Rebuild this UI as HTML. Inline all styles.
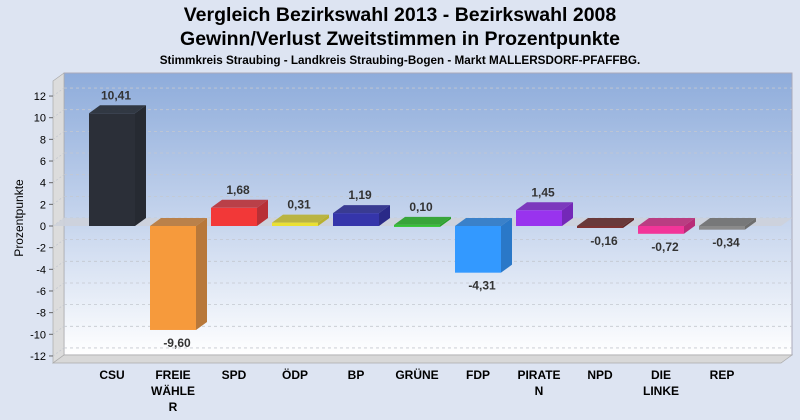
<!DOCTYPE html>
<html><head><meta charset="utf-8"><style>
body{margin:0;background:#dde4f2;}
svg{display:block;font-family:"Liberation Sans",Arial,sans-serif;}
</style></head><body>
<svg id="s" width="800" height="420" xmlns="http://www.w3.org/2000/svg">
<defs>
<linearGradient id="bg" x1="0" y1="0" x2="0" y2="1">
<stop offset="0" stop-color="#8eacdb"/><stop offset="0.55" stop-color="#c9d7ee"/><stop offset="1" stop-color="#ffffff"/>
</linearGradient>
</defs>
<rect width="800" height="420" fill="#dde4f2"/>
<text x="400" y="21" text-anchor="middle" font-size="19.5" font-weight="bold">Vergleich Bezirkswahl 2013 - Bezirkswahl 2008</text>
<text x="400" y="45" text-anchor="middle" font-size="19.5" font-weight="bold">Gewinn/Verlust Zweitstimmen in Prozentpunkte</text>
<text x="400" y="64" text-anchor="middle" font-size="11.7" font-weight="bold">Stimmkreis Straubing - Landkreis Straubing-Bogen - Markt MALLERSDORF-PFAFFBG.</text>
<rect x="64" y="73" width="728" height="282" fill="url(#bg)" stroke="#aab" stroke-width="1"/>
<polygon points="53,81 64,73 64,355 53,363" fill="#dcdcdc" stroke="#aaa" stroke-width="0.7"/>
<polygon points="53,363 64,355 792,355 781,363" fill="#d8d8d8" stroke="#aaa" stroke-width="0.7"/>
<text transform="translate(23,218) rotate(-90)" text-anchor="middle" font-size="12">Prozentpunkte</text>
<g id="g"></g>
</svg>
<script>
var g=document.getElementById('g'),h='';
function Y(v){return 226-v*10.83;}
for(var v=-12;v<=12;v+=2){var y=Y(v);
h+='<line x1="64" y1="'+(y-8)+'" x2="792" y2="'+(y-8)+'" stroke="#c4c8d0" stroke-dasharray="3,3" stroke-width="0.8"/>';
h+='<line x1="53" y1="'+y+'" x2="64" y2="'+(y-8)+'" stroke="#c4c8d0" stroke-dasharray="2,2" stroke-width="0.8"/>';
h+='<line x1="49" y1="'+y+'" x2="53" y2="'+y+'" stroke="#666"/>';
h+='<text x="46" y="'+(y+4)+'" text-anchor="end" font-size="11">'+v+'</text>';}
h+='<polygon points="53,226 64,218 792,218 781,226" fill="#cdd2da" opacity="0.9"/>';
var d=[["CSU",10.41,"#2b2f38","#262a32"],["FREIE|WÄHLE|R",-9.60,"#f69a3c","#b8783a"],["SPD",1.68,"#f23838","#b83036"],["ÖDP",0.31,"#eae033","#b8b030"],["BP",1.19,"#3535aa","#2a2a88"],["GRÜNE",0.10,"#33c233","#28a028"],["FDP",-4.31,"#3399ff","#2a78c8"],["PIRATE|N",1.45,"#9933ee","#7428b8"],["NPD",-0.16,"#7c3232","#5e2828"],["DIE|LINKE",-0.72,"#f23599","#b82c78"],["REP",-0.34,"#8a8a8a","#6e6e6e"]];
d.forEach(function(b,i){var x=89+i*61,w=46,v=b[1],t=Math.min(Y(v),226),bt=Math.max(Y(v),226);
if(bt-t<2)bt=t+2;
h+='<polygon points="'+(x+w)+','+t+' '+(x+w+11)+','+(t-8)+' '+(x+w+11)+','+(bt-8)+' '+(x+w)+','+bt+'" fill="'+b[3]+'"/>';
h+='<polygon points="'+x+','+t+' '+(x+11)+','+(t-8)+' '+(x+w+11)+','+(t-8)+' '+(x+w)+','+t+'" fill="'+b[3]+'" opacity="0.9"/>';
h+='<rect x="'+x+'" y="'+t+'" width="'+w+'" height="'+(bt-t)+'" fill="'+b[2]+'"/>';
var s=v.toFixed(2).replace('.',','),ly=v>=0?t-14:bt+17;
h+='<text x="'+(x+w/2+4)+'" y="'+ly+'" text-anchor="middle" font-size="12" font-weight="bold" fill="#333">'+s+'</text>';
b[0].split('|').forEach(function(l,j){h+='<text x="'+(x+w/2)+'" y="'+(379+j*16)+'" text-anchor="middle" font-size="12" font-weight="bold">'+l+'</text>';});
});
g.innerHTML=h;
</script>
</body></html>
